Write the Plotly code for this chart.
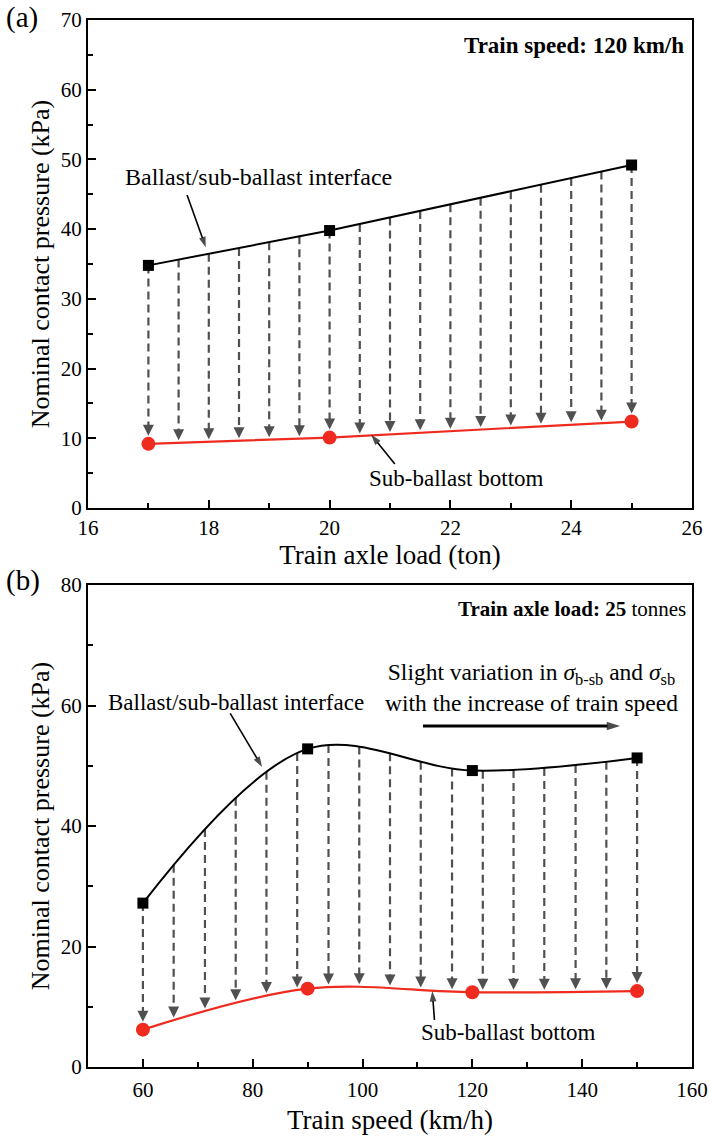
import numpy as np
import plotly.graph_objects as go

# ---------------- data ----------------
# Panel (a): train speed 120 km/h
axle_load = [17, 20, 25]
a_ballast = [34.8, 39.8, 49.2]      # ballast/sub-ballast interface (kPa)
a_subballast = [9.2, 10.1, 12.4]    # sub-ballast bottom (kPa)
a_arrow_x = [17, 17.5, 18, 18.5, 19, 19.5, 20, 20.5, 21, 21.5, 22, 22.5, 23, 23.5, 24, 24.5, 25]

# Panel (b): axle load 25 t
speed = [60, 90, 120, 150]
b_ballast = [27.2, 52.8, 49.2, 51.3]
b_subballast = [6.2, 13.0, 12.4, 12.6]
b_arrow_x = [60, 65.6, 71.3, 76.9, 82.5, 88.1, 93.8, 99.4, 105, 110.6, 116.3, 121.9,
             127.5, 133.1, 138.8, 144.4, 150]

a_xticks = [16, 18, 20, 22, 24, 26]
a_yticks = [0, 10, 20, 30, 40, 50, 60, 70]
b_xticks = [60, 80, 100, 120, 140, 160]
b_yticks = [0, 20, 40, 60, 80]

# ---------------- layout geometry ----------------
W, H = 710, 1138
XL, XR = 88, 692
A_TOP, A_BOT = 20, 508
B_TOP, B_BOT = 585, 1067
XD = [XL / W, XR / W]
YA = [1 - A_BOT / H, 1 - A_TOP / H]
YB = [1 - B_BOT / H, 1 - B_TOP / H]
A_XR, A_YR = [16, 26], [0, 70]
B_XR, B_YR = [50, 160], [0, 80]

FONT = "Liberation Serif, Times New Roman, serif"
BLACK = "#000000"
RED = "#ee2b1e"
GREY = "#505050"


def plotly_spline(xs, ys, xr, yr, wpx, hpx, xq, smoothing=1.0):
    """Evaluate the curve drawn by plotly's line_shape='spline' at xq."""
    px = [(x - xr[0]) / (xr[1] - xr[0]) * wpx for x in xs]
    py = [(y - yr[0]) / (yr[1] - yr[0]) * hpx for y in ys]
    pts = list(zip(px, py))

    def tangent(p0, p1, p2):
        d1x, d1y = p0[0] - p1[0], p0[1] - p1[1]
        d2x, d2y = p2[0] - p1[0], p2[1] - p1[1]
        d1a = (d1x ** 2 + d1y ** 2) ** 0.25
        d2a = (d2x ** 2 + d2y ** 2) ** 0.25
        numx = (d2a * d2a * d1x - d1a * d1a * d2x) * smoothing
        numy = (d2a * d2a * d1y - d1a * d1a * d2y) * smoothing
        den1 = 3 * d2a * (d1a + d2a)
        den2 = 3 * d1a * (d1a + d2a)
        return ((p1[0] + numx / den1, p1[1] + numy / den1),
                (p1[0] - numx / den2, p1[1] - numy / den2))

    n = len(pts)
    tans = [tangent(pts[i - 1], pts[i], pts[i + 1]) for i in range(1, n - 1)]
    segs = [[pts[0], tans[0][0], pts[1]]]
    for i in range(2, n - 1):
        segs.append([pts[i - 1], tans[i - 2][1], tans[i - 1][0], pts[i]])
    segs.append([pts[n - 2], tans[n - 3][1], pts[n - 1]])
    t = np.linspace(0, 1, 600)
    sx, sy = [], []
    for s in segs:
        if len(s) == 3:
            b = [(1 - t) ** 2, 2 * (1 - t) * t, t ** 2]
        else:
            b = [(1 - t) ** 3, 3 * (1 - t) ** 2 * t, 3 * (1 - t) * t ** 2, t ** 3]
        sx.append(sum(bi * p[0] for bi, p in zip(b, s)))
        sy.append(sum(bi * p[1] for bi, p in zip(b, s)))
    sx = np.concatenate(sx)
    sy = np.concatenate(sy)
    qx = (np.array(xq, dtype=float) - xr[0]) / (xr[1] - xr[0]) * wpx
    qy = np.interp(qx, sx, sy)
    return qy / hpx * (yr[1] - yr[0]) + yr[0]


def arrow_traces(xs, tops, bottoms, marker_x, ppu, xa, ya):
    lx, ly, hx, hy = [], [], [], []
    for x, t, b in zip(xs, tops, bottoms):
        gap = 8 if any(abs(x - m) < 1e-6 for m in marker_x) else 2.5
        tip = b + gap / ppu
        lx += [x, x, None]
        ly += [t, tip + 6 / ppu, None]
        hx.append(x)
        hy.append(tip)
    line = go.Scatter(x=lx, y=ly, mode="lines", xaxis=xa, yaxis=ya,
                      line=dict(color=GREY, width=2.2, dash="8px,5px"),
                      hoverinfo="skip", showlegend=False)
    head = go.Scatter(x=hx, y=hy, mode="markers", xaxis=xa, yaxis=ya,
                      marker=dict(symbol="arrow-down", size=11, color=GREY,
                                  line=dict(width=0)),
                      hoverinfo="skip", showlegend=False)
    return [line, head]


def pointer(x0, y0, x1, y1, xa, ya, width=1.6, size=11):
    """Solid pointer arrow from (x0, y0) to (x1, y1)."""
    return go.Scatter(x=[x0, x1], y=[y0, y1], mode="lines+markers", xaxis=xa, yaxis=ya,
                      line=dict(color=BLACK, width=width),
                      marker=dict(symbol=["circle", "arrow"], size=[0, size], color=BLACK,
                                  angleref="previous", line=dict(width=0)),
                      hoverinfo="skip", showlegend=False)


a_ppu = (A_BOT - A_TOP) / (A_YR[1] - A_YR[0])
b_ppu = (B_BOT - B_TOP) / (B_YR[1] - B_YR[0])

a_tops = np.interp(a_arrow_x, axle_load, a_ballast)
a_bots = np.interp(a_arrow_x, axle_load, a_subballast)
b_tops = plotly_spline(speed, b_ballast, B_XR, B_YR, XR - XL, B_BOT - B_TOP, b_arrow_x)
b_bots = plotly_spline(speed, b_subballast, B_XR, B_YR, XR - XL, B_BOT - B_TOP, b_arrow_x)

fig = go.Figure()
for tr in arrow_traces(a_arrow_x, a_tops, a_bots, axle_load, a_ppu, "x", "y"):
    fig.add_trace(tr)
for tr in arrow_traces(b_arrow_x, b_tops, b_bots, speed, b_ppu, "x2", "y2"):
    fig.add_trace(tr)

# curves
fig.add_trace(go.Scatter(x=axle_load, y=a_ballast, mode="lines+markers", xaxis="x", yaxis="y",
                         line=dict(color=BLACK, width=2),
                         marker=dict(symbol="square", size=11, color=BLACK),
                         showlegend=False, name="Ballast/sub-ballast interface"))
fig.add_trace(go.Scatter(x=axle_load, y=a_subballast, mode="lines+markers", xaxis="x", yaxis="y",
                         line=dict(color=RED, width=2.2),
                         marker=dict(symbol="circle", size=14, color=RED),
                         showlegend=False, name="Sub-ballast bottom"))
fig.add_trace(go.Scatter(x=speed, y=b_ballast, mode="lines+markers", xaxis="x2", yaxis="y2",
                         line=dict(color=BLACK, width=2, shape="spline", smoothing=1),
                         marker=dict(symbol="square", size=11, color=BLACK),
                         showlegend=False, name="Ballast/sub-ballast interface"))
fig.add_trace(go.Scatter(x=speed, y=b_subballast, mode="lines+markers", xaxis="x2", yaxis="y2",
                         line=dict(color=RED, width=2.2, shape="spline", smoothing=1),
                         marker=dict(symbol="circle", size=14, color=RED),
                         showlegend=False, name="Sub-ballast bottom"))

# pointer arrows of the labels
fig.add_trace(pointer(17.64, 44.9, 17.95, 37.4, "x", "y"))
fig.add_trace(pointer(21.08, 6.3, 20.69, 10.5, "x", "y"))
fig.add_trace(pointer(75.9, 58.7, 81.7, 49.8, "x2", "y2"))
fig.add_trace(pointer(113.1, 7.8, 112.7, 12.6, "x2", "y2"))
fig.add_trace(pointer(111.0, 56.6, 146.9, 56.6, "x2", "y2", width=3, size=14))

axis_common = dict(showline=True, linewidth=2, linecolor=BLACK, mirror=True,
                   ticks="inside", ticklen=8, tickwidth=2, tickcolor=BLACK,
                   showgrid=False, zeroline=False, automargin=False,
                   tickfont=dict(family=FONT, size=21, color=BLACK))
minor_common = dict(ticks="inside", ticklen=5, tickwidth=2, tickcolor=BLACK, showgrid=False)

title_font = dict(family=FONT, size=27, color=BLACK)
ytitle_font = dict(family=FONT, size=26, color=BLACK)

fig.update_layout(
    width=W, height=H,
    margin=dict(l=0, r=0, t=0, b=0),
    paper_bgcolor="white", plot_bgcolor="white",
    font=dict(family=FONT, color=BLACK),
    showlegend=False,
    xaxis=dict(domain=XD, anchor="y", range=A_XR, tickvals=a_xticks,
               minor=dict(dtick=1, **minor_common),
               title=dict(text="Train axle load (ton)", font=title_font, standoff=5),
               **axis_common),
    yaxis=dict(domain=YA, anchor="x", range=A_YR, tickvals=a_yticks,
               minor=dict(dtick=5, **minor_common),
               title=dict(text="Nominal contact pressure (kPa)", font=ytitle_font, standoff=4),
               **axis_common),
    xaxis2=dict(domain=XD, anchor="y2", range=B_XR, tickvals=b_xticks,
                minor=dict(dtick=10, **minor_common), ticklabelstandoff=3,
                title=dict(text="Train speed (km/h)", font=title_font, standoff=9),
                **axis_common),
    yaxis2=dict(domain=YB, anchor="x2", range=B_YR, tickvals=b_yticks,
                minor=dict(dtick=10, **minor_common),
                title=dict(text="Nominal contact pressure (kPa)", font=ytitle_font, standoff=4),
                **axis_common),
)

anns = [
    # panel labels
    dict(text="(a)", x=4 / W, y=1 - 18 / H, xref="paper", yref="paper", xanchor="left",
         yanchor="middle", showarrow=False, font=dict(family=FONT, size=29, color=BLACK)),
    dict(text="(b)", x=4 / W, y=1 - 580 / H, xref="paper", yref="paper", xanchor="left",
         yanchor="middle", showarrow=False, font=dict(family=FONT, size=29, color=BLACK)),
    # panel (a)
    dict(text="<b>Train speed: 120 km/h</b>", x=25.9, y=66.4, xref="x", yref="y",
         xanchor="right", yanchor="middle", showarrow=False,
         font=dict(family=FONT, size=23, color=BLACK)),
    dict(text="Ballast/sub-ballast interface", x=18.82, y=47.5, xref="x", yref="y",
         showarrow=False, font=dict(family=FONT, size=24, color=BLACK)),
    dict(text="Sub-ballast bottom", x=22.1, y=4.2, xref="x", yref="y",
         showarrow=False, font=dict(family=FONT, size=23, color=BLACK)),
    # panel (b)
    dict(text="<b>Train axle load: 25</b> tonnes", x=159.3, y=76.0, xref="x2", yref="y2",
         xanchor="right", yanchor="middle", showarrow=False,
         font=dict(family=FONT, size=21, color=BLACK)),
    dict(text="Ballast/sub-ballast interface", x=77.0, y=60.5, xref="x2", yref="y2",
         showarrow=False, font=dict(family=FONT, size=23, color=BLACK)),
    dict(text="Slight variation in <i>σ</i><sub>b-sb</sub> and <i>σ</i><sub>sb</sub><br>"
              "with the increase of train speed",
         x=130.7, y=63.0, xref="x2", yref="y2", showarrow=False, align="center",
         font=dict(family=FONT, size=23.5, color=BLACK)),
    dict(text="Sub-ballast bottom", x=126.5, y=5.8, xref="x2", yref="y2",
         showarrow=False, font=dict(family=FONT, size=23, color=BLACK)),
]
fig.update_layout(annotations=anns)

fig.write_html("out.html")
